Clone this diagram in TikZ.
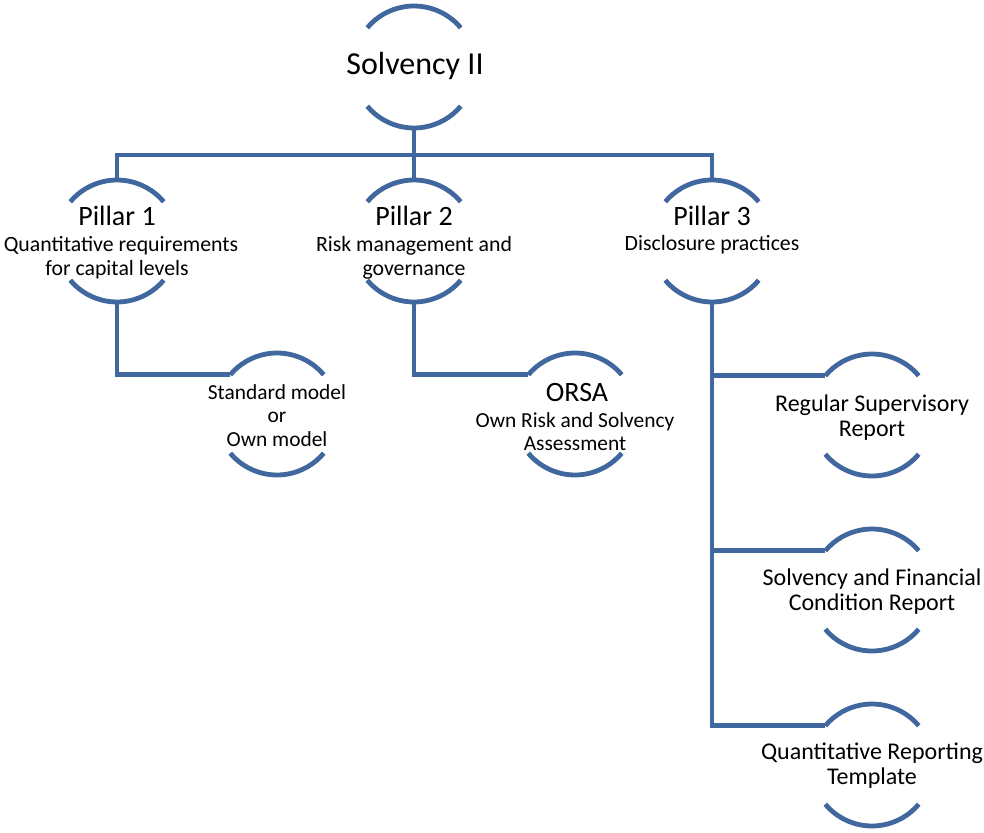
\documentclass[tikz,border=0pt]{standalone}
\usepackage{fontspec}
\setmainfont{Carlito}
\definecolor{main}{RGB}{65,104,158}
\newcommand\twoarcs[1]{%
  \draw[arcline] (#1.40) arc[start angle=40,end angle=140,radius=61pt];
  \draw[arcline] (#1.220) arc[start angle=220,end angle=320,radius=61pt];}
\tikzset{
  unit/.style={circle, minimum size=122pt, inner sep=0pt, outer sep=0pt, draw=none},
  arcline/.style={draw=main, line width=4.8pt, line cap=butt},
  conn/.style={draw=main, line width=4.8pt, line join=miter},
  txt/.style={anchor=base, inner sep=0pt, outer sep=0pt, text=black},
  bigt/.style={txt, font=\fontsize{32}{36}\selectfont},
  ttl/.style={txt, font=\fontsize{28}{32}\selectfont},
  subt/.style={txt, font=\fontsize{21.8}{24.5}\selectfont},
  subs/.style={txt, font=\fontsize{21.4}{23.5}\selectfont},
  kid/.style={txt, font=\fontsize{24}{25}\selectfont}
}
\begin{document}
\begin{tikzpicture}[x=1pt,y=-1pt]
\useasboundingbox (0,0) rectangle (984,832);
% geometry of the units
\node[unit] (s2) at (414,67) {};
\node[unit] (p1) at (117,241) {};
\node[unit] (p2) at (414,241) {};
\node[unit] (p3) at (712,241) {};
\node[unit] (c1) at (277,414) {};
\node[unit] (c2) at (575,414) {};
\node[unit] (r1) at (872,415) {};
\node[unit] (r2) at (872,590) {};
\node[unit] (r3) at (872,765) {};
\foreach \n in {s2,p1,p2,p3,c1,c2,r1,r2,r3} {\twoarcs{\n}}
% connectors
\coordinate (bar) at (414,155);
\draw[conn] (s2.south) -- (bar);
\draw[conn] (p1.north) |- (bar) -| (p3.north);
\draw[conn] (bar) -- (p2.north);
\draw[conn] (p1.south) |- (c1.140);
\draw[conn] (p2.south) |- (c2.140);
\draw[conn] (p3.south) |- (r3.140);
\draw[conn] (p3.south |- r1.140) -- (r1.140);
\draw[conn] (p3.south |- r2.140) -- (r2.140);
% texts
\node[bigt] (s2t) at (415,75) {Solvency II};
\node[ttl] (p1t) at (117,225) {Pillar 1};
\node[subt] (p1s) at (117,251) {\begin{tabular}[t]{@{}c@{}}\hspace*{8pt}Quantitative requirements\\for capital levels\end{tabular}};
\node[ttl] (p2t) at (414,225) {Pillar 2};
\node[subt] (p2s) at (414,251) {\begin{tabular}[t]{@{}c@{}}Risk management and\\governance\end{tabular}};
\node[ttl] (p3t) at (712,225) {Pillar 3};
\node[subt] (p3s) at (712,250) {Disclosure practices};
\node[subs] (c1t) at (277,399) {\begin{tabular}[t]{@{}c@{}}Standard model\\or\\Own model\end{tabular}};
\node[ttl] (c2t) at (577,401) {ORSA};
\node[subs] (c2s) at (575,427) {\begin{tabular}[t]{@{}c@{}}Own Risk and Solvency\\Assessment\end{tabular}};
\node[kid] (r1t) at (872,411) {\begin{tabular}[t]{@{}c@{}}Regular Supervisory\\Report\end{tabular}};
\node[kid] (r2t) at (872,585) {\begin{tabular}[t]{@{}c@{}}Solvency and Financial\\Condition Report\end{tabular}};
\node[kid] (r3t) at (872,759) {\begin{tabular}[t]{@{}c@{}}Quantitative Reporting\\Template\end{tabular}};
\end{tikzpicture}
\end{document}
